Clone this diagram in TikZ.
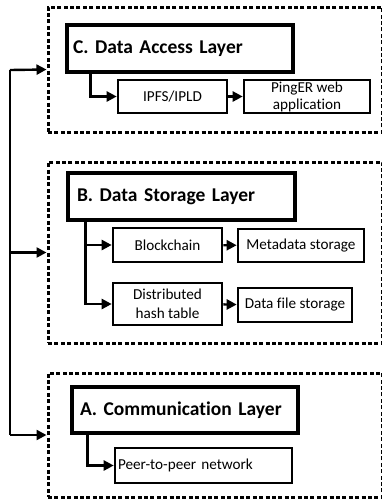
\documentclass[tikz,border=0pt]{standalone}
\usepackage{fontspec}
\setmainfont{Carlito}[Ligatures=NoCommon]
\usetikzlibrary{arrows.meta}
\tikzset{
  layer/.style={draw, line width=3pt, dash pattern=on 4pt off 2.4pt, inner sep=0pt},
  titlebox/.style={draw, line width=3.4pt, font=\bfseries\fontsize{19.5}{22}\selectfont, inner xsep=6pt, inner ysep=0pt, align=left},
  itembox/.style={draw, line width=2.6pt, font=\fontsize{15.2}{18}\selectfont, inner sep=1pt, align=center},
  arr/.style={line width=2.4pt, -{Triangle[length=10pt,width=10pt]}},
  spine/.style={line width=2.4pt},
}
\begin{document}
\begin{tikzpicture}[x=1pt,y=-1pt]
\useasboundingbox (0,0) rectangle (382,504);
% layers
\node[layer, minimum width=334.5pt, minimum height=125pt] (layerC) at (215.25,69.5) {};
\node[layer, minimum width=334.5pt, minimum height=181pt] (layerB) at (215.25,252.5) {};
\node[layer, minimum width=334.5pt, minimum height=124pt] (layerA) at (215.25,435) {};
% titles
\node[titlebox, minimum width=226pt, minimum height=47pt, text width=214pt] (titleC) at (180,48.5) {C. Data Access Layer};
\node[titlebox, minimum width=227pt, minimum height=47pt, text width=209pt, inner xsep=9pt] (titleB) at (181.5,196.5) {B. Data Storage Layer};
\node[titlebox, minimum width=226pt, minimum height=46pt, text width=210pt, inner xsep=8pt] (titleA) at (185,410) {A. Communication Layer};
% items
\node[itembox, minimum width=109pt, minimum height=33pt] (ipfs) at (172.5,96.5) {IPFS/IPLD};
\node[itembox, minimum width=126pt, minimum height=33pt, font=\fontsize{15.2}{17}\selectfont] (pinger) at (307,96.5) {PingER web\\application};
\node[itembox, minimum width=109pt, minimum height=34pt] (chain) at (167.5,245) {Blockchain};
\node[itembox, minimum width=126pt, minimum height=33pt] (meta) at (301,245.5) {Metadata storage};
\node[itembox, minimum width=109pt, minimum height=42pt, font=\fontsize{15.2}{19}\selectfont] (dht) at (167.5,304) {Distributed\\hash table};
\node[itembox, minimum width=114pt, minimum height=34pt] (dfs) at (295,305) {Data file storage};
\node[itembox, minimum width=177pt, minimum height=35pt, text width=171pt, align=left, inner xsep=3pt] (p2p) at (203.5,465.5) {Peer-to-peer network};
% spine
\coordinate (sTop) at (10,70);
\coordinate (sBot) at (10,435);
\draw[spine] (sTop) -- (sBot);
\draw[arr] (sTop) -- (layerC.west);
\draw[arr] (sTop |- layerB.west) -- (layerB.west);
\draw[arr] (sBot) -- (layerA.west);
% inner arrows
\draw[arr] ([xshift=25pt]titleC.south west) |- (ipfs.west);
\draw[arr] (ipfs) -- (pinger);
\draw[arr] ([xshift=19pt]titleB.south west) |- (chain.west);
\draw[arr] ([xshift=19pt]titleB.south west) |- (dht.west);
\draw[arr] (chain) -- (meta);
\draw[arr] (dht) -- (dfs);
\draw[arr] ([xshift=17pt]titleA.south west) |- (p2p.west);
\end{tikzpicture}
\end{document}
